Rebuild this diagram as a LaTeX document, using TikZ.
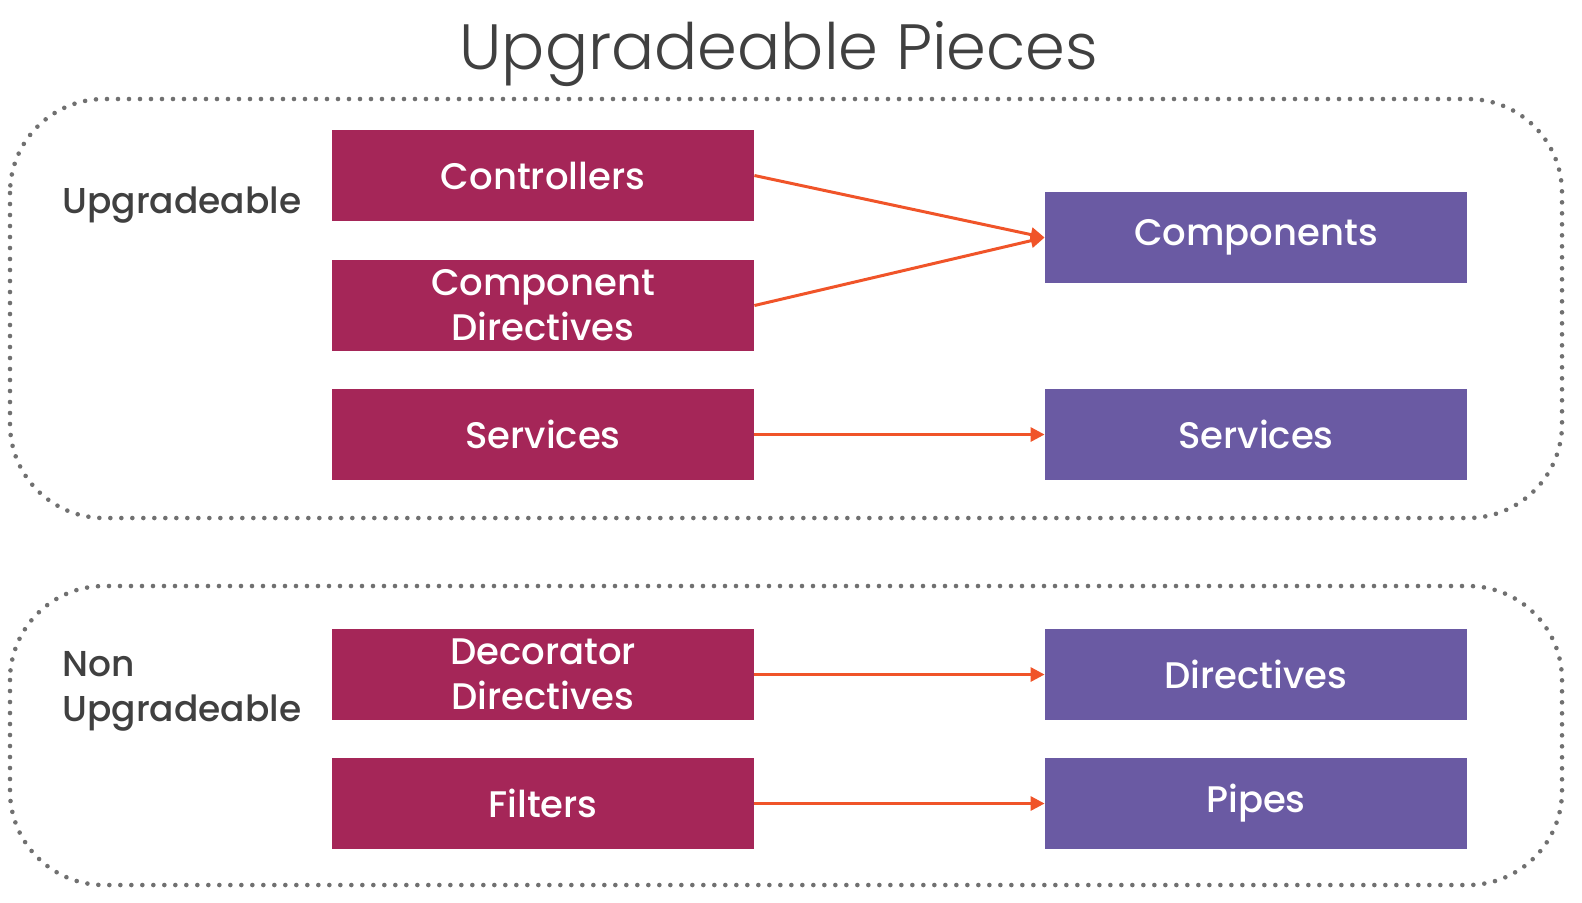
\documentclass[tikz,border=0pt]{standalone}
\usepackage{fontspec}
\setmainfont{Poppins}
\newfontfamily\titlefont{Poppins Light}
\newfontfamily\piecefont{Poppins Medium}
\usetikzlibrary{arrows.meta,positioning}
\definecolor{oldbox}{HTML}{A52658}
\definecolor{newbox}{HTML}{6A5AA3}
\definecolor{arrowred}{HTML}{F05429}
\definecolor{dotgray}{HTML}{707070}
\definecolor{inkgray}{HTML}{404040}
\tikzset{
  piece/.style={minimum width=211pt,minimum height=45.5pt,text=white,
    font=\piecefont\fontsize{18.5}{22.5}\selectfont,align=center,inner sep=0pt},
  oldpiece/.style={piece,fill=oldbox},
  newpiece/.style={piece,fill=newbox},
  upgrade/.style={draw=arrowred,line width=1.5pt,-{Triangle[length=7pt,width=7pt]}},
  group/.style={draw=dotgray,line width=2.3pt,line cap=round,
    dash pattern=on 0pt off 5.5pt,rounded corners=47pt},
  grouplabel/.style={text=inkgray,font=\piecefont\fontsize{18}{22.5}\selectfont,
    align=left,anchor=west,inner sep=0pt}
}
\begin{document}
\begin{tikzpicture}[x=0.5pt,y=-0.5pt]
\useasboundingbox (0,0) rectangle (1582,902);
\node[text=inkgray,font=\titlefont\fontsize{32}{36}\selectfont] (title) at (779,54) {Upgradeable Pieces};
\draw[group] (10,99) rectangle (1562,518);
\draw[group] (10,586) rectangle (1562,885);
\node[grouplabel] (up) at (62,205) {Upgradeable};
\node[grouplabel] (nonup) at (62,691) {Non\\Upgradeable};
\node[oldpiece] (ctrl) at (543,175.5) {Controllers};
\node[oldpiece] (compdir) at (543,305.5) {Component\\Directives};
\node[oldpiece] (oldsvc) at (543,434.5) {Services};
\node[oldpiece] (decdir) at (543,674.5) {Decorator\\Directives};
\node[oldpiece] (filters) at (543,803.5) {Filters};
\node[newpiece] (comps) at (1256,237.5) {Components};
\node[newpiece] (newsvc) at (1256,434.5) {Services};
\node[newpiece] (dirs) at (1256,674.5) {Directives};
\node[newpiece] (pipes) at (1256,803.5) {Pipes};
\draw[upgrade] (ctrl.east) -- (comps.west);
\draw[upgrade] (compdir.east) -- (comps.west);
\draw[upgrade] (oldsvc) -- (newsvc);
\draw[upgrade] (decdir) -- (dirs);
\draw[upgrade] (filters) -- (pipes);
\end{tikzpicture}
\end{document}
